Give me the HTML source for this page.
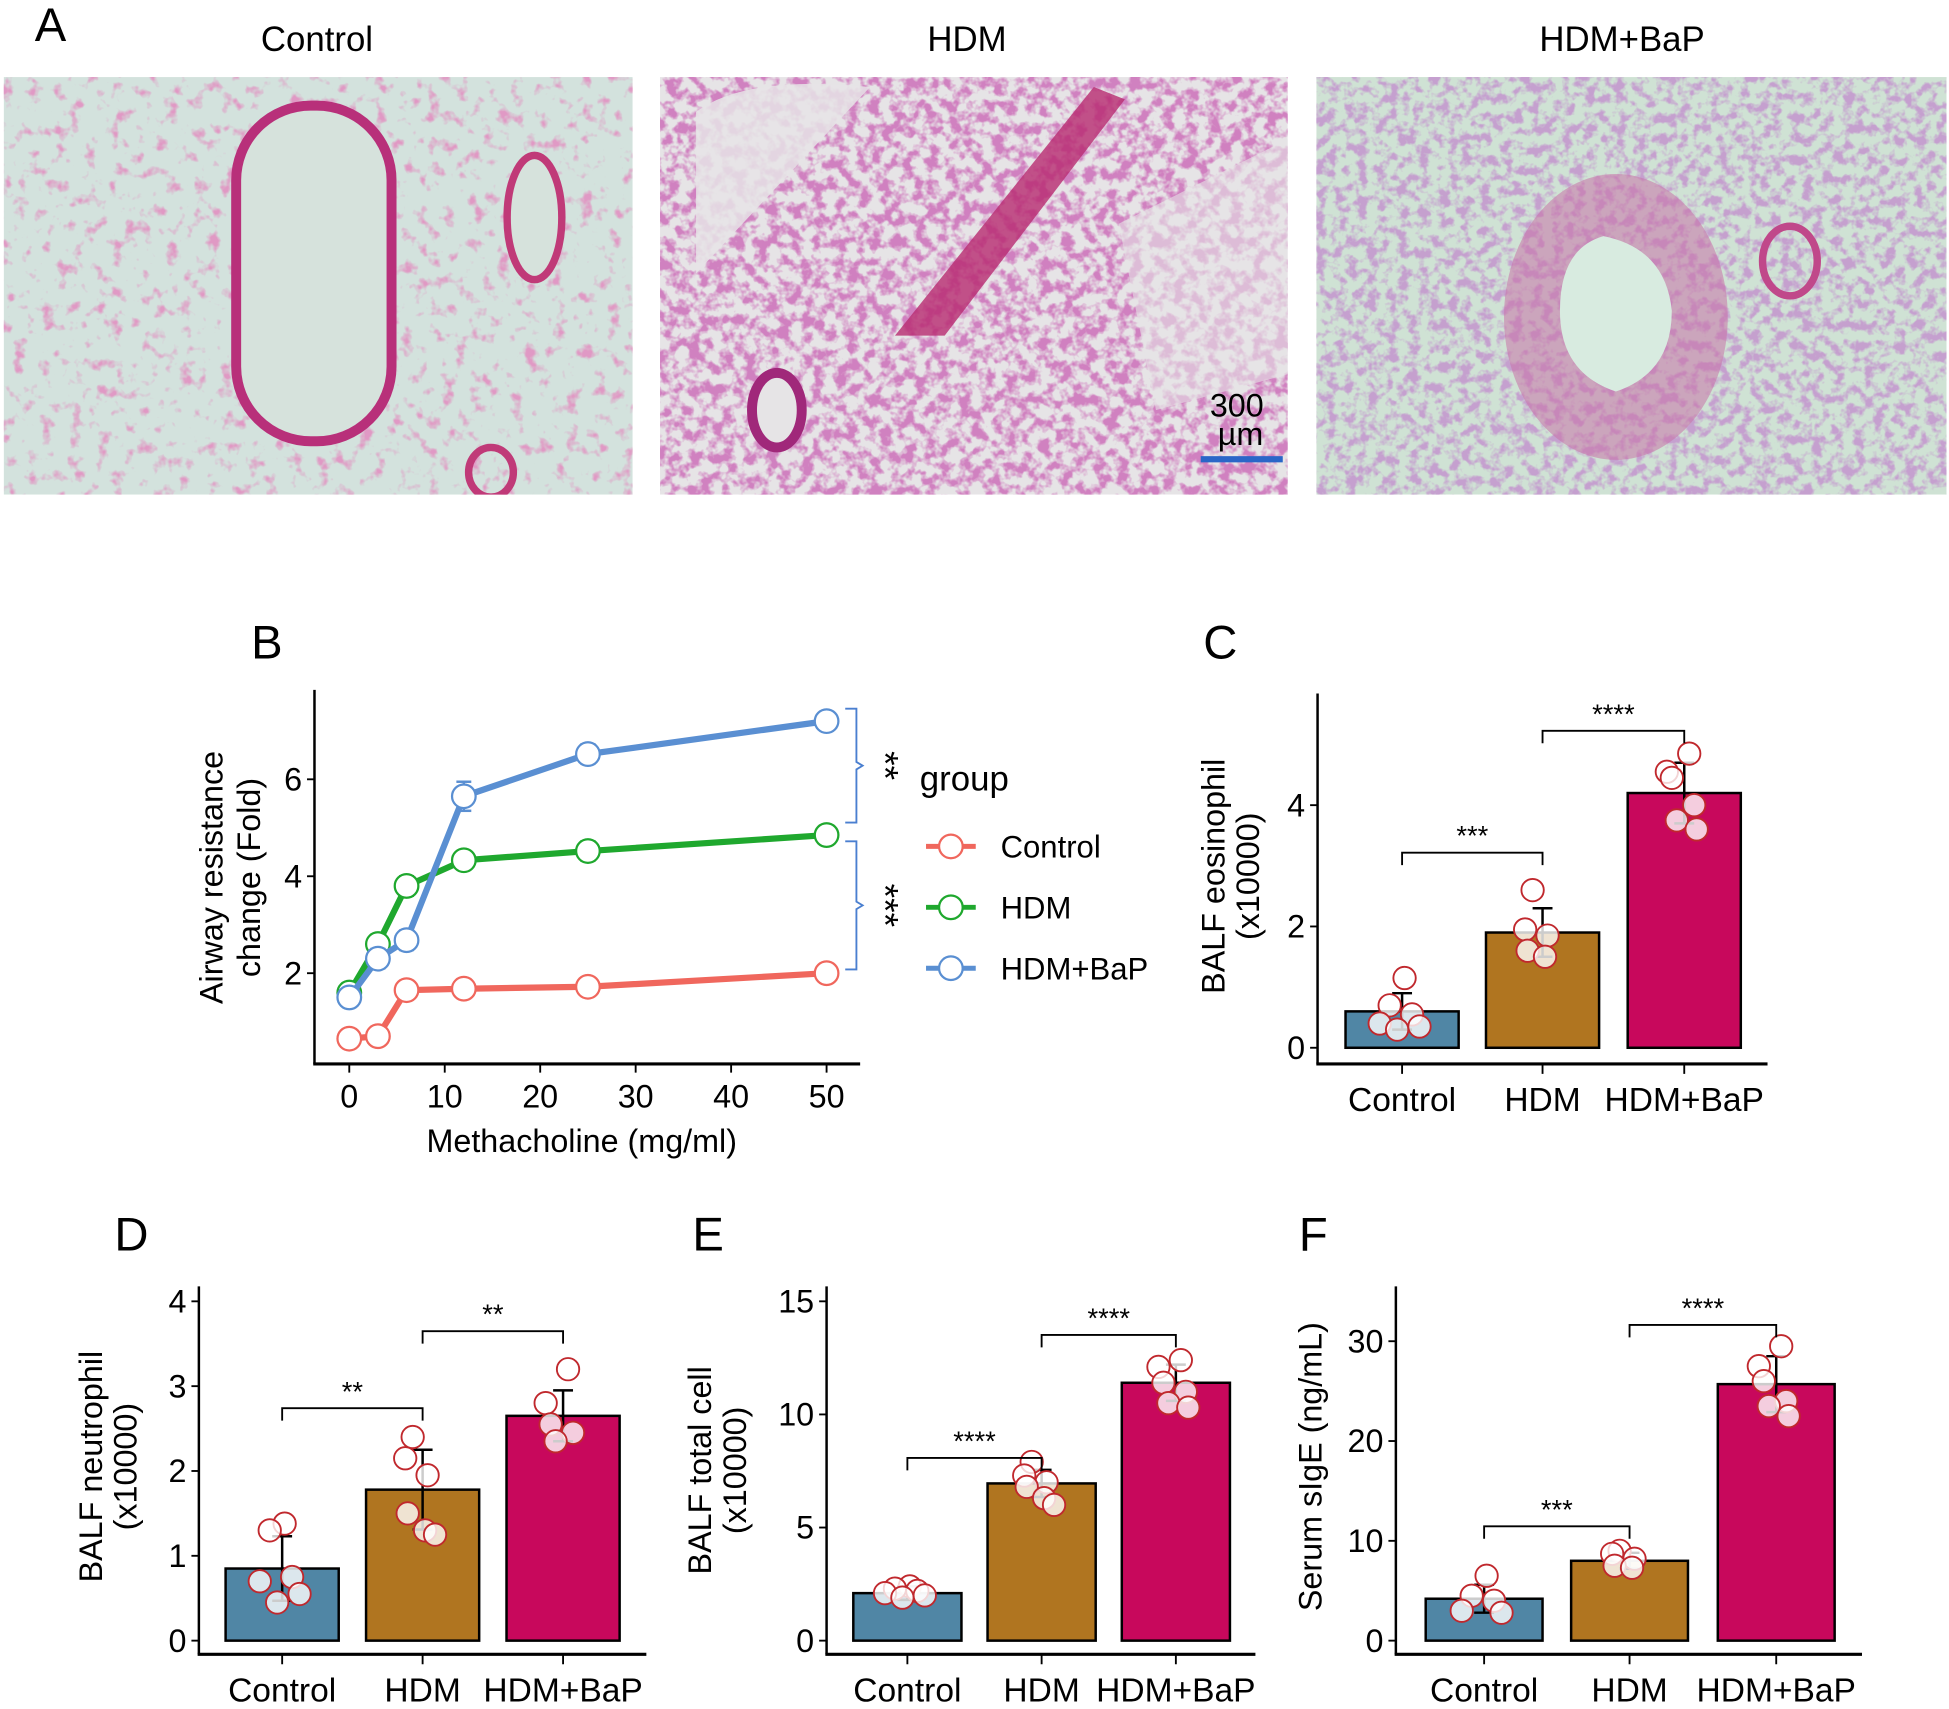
<!DOCTYPE html>
<html><head><meta charset="utf-8">
<style>
html,body{margin:0;padding:0;background:#fff;}
svg{display:block;}
text{font-family:"Liberation Sans",Arial,sans-serif;}
</style></head>
<body>
<svg id="fig" width="1949" height="1709" viewBox="0 0 1568 1375" preserveAspectRatio="none" xmlns="http://www.w3.org/2000/svg">
<defs>
<filter id="texA" x="0" y="0" width="1" height="1">
<feTurbulence type="fractalNoise" baseFrequency="0.09" numOctaves="3" seed="3"/>
<feColorMatrix type="matrix" values="0 0 0 0 0.78  0 0 0 0 0.22  0 0 0 0 0.5  4.5 0 0 0 -2.55"/>
</filter>
<filter id="texB" x="0" y="0" width="1" height="1">
<feTurbulence type="fractalNoise" baseFrequency="0.11" numOctaves="3" seed="7"/>
<feColorMatrix type="matrix" values="0 0 0 0 0.62  0 0 0 0 0.18  0 0 0 0 0.5  4.5 0 0 0 -1.9"/>
</filter>
<filter id="texC" x="0" y="0" width="1" height="1">
<feTurbulence type="fractalNoise" baseFrequency="0.12" numOctaves="3" seed="11"/>
<feColorMatrix type="matrix" values="0 0 0 0 0.55  0 0 0 0 0.3  0 0 0 0 0.62  4.5 0 0 0 -2.0"/>
</filter>
<clipPath id="c1"><rect x="3" y="62" width="506" height="336"/></clipPath>
<clipPath id="c2"><rect x="531" y="62" width="505" height="336"/></clipPath>
<clipPath id="c3"><rect x="1059" y="62" width="507" height="336"/></clipPath>
</defs>

<g>
<text x="28" y="33" font-size="38">A</text>
<text x="255" y="41" font-size="28" text-anchor="middle">Control</text>
<text x="778" y="41" font-size="28" text-anchor="middle">HDM</text>
<text x="1305" y="41" font-size="28" text-anchor="middle">HDM+BaP</text>

<g clip-path="url(#c1)">
<rect x="3" y="62" width="506" height="336" fill="#d3e2dd"/>
<rect x="3" y="62" width="506" height="336" filter="url(#texA)" opacity="0.75"/>
<rect x="190" y="85" width="125" height="270" rx="60" fill="#d6e2dc" stroke="#b8307a" stroke-width="8"/>
<ellipse cx="430" cy="175" rx="22" ry="50" fill="#d6e2dc" stroke="#c03a78" stroke-width="6"/>
<ellipse cx="395" cy="380" rx="18" ry="20" fill="none" stroke="#c03a78" stroke-width="6"/>
</g>
<g clip-path="url(#c2)">
<rect x="531" y="62" width="505" height="336" fill="#e6e4e6"/>
<rect x="531" y="62" width="505" height="336" filter="url(#texB)" opacity="0.9"/>
<path d="M560 90 Q600 60 700 70 L560 220 Z" fill="#e6e4e6" opacity="0.85"/>
<path d="M900 180 L1040 110 L1040 300 L930 330 Z" fill="#e6e4e6" opacity="0.6"/>
<path d="M720 270 L880 70 L905 80 L760 270 Z" fill="#b82a70" opacity="0.8"/>
<ellipse cx="625" cy="330" rx="20" ry="30" fill="#e6e4e6" stroke="#a0287a" stroke-width="8"/>
<rect x="966" y="367" width="66" height="5" fill="#2a66c8"/>
<text x="995" y="335" font-size="26" text-anchor="middle">300</text>
<text x="998" y="358" font-size="26" text-anchor="middle">µm</text>
</g>
<g clip-path="url(#c3)">
<rect x="1059" y="62" width="507" height="336" fill="#cfe2d4"/>
<rect x="1059" y="62" width="507" height="336" filter="url(#texC)" opacity="0.85"/>
<ellipse cx="1300" cy="255" rx="90" ry="115" fill="#c873a8" opacity="0.55"/>
<path d="M1290 190 Q1340 200 1345 250 Q1345 300 1300 315 Q1255 300 1255 250 Q1255 200 1290 190 Z" fill="#d8ebe0"/>
<ellipse cx="1440" cy="210" rx="22" ry="28" fill="none" stroke="#c0488a" stroke-width="6"/>
</g>
</g>

<g id="charts"></g>
</svg>

<script>
// ---- Panel B data ----
var doseX = [0, 3, 6, 12, 25, 50];
var ctrlMean = [0.65, 0.7, 1.65, 1.68, 1.72, 2.0];
var hdmMean = [1.6, 2.6, 3.8, 4.33, 4.52, 4.85];
var bapMean = [1.5, 2.3, 2.68, 5.65, 6.52, 7.2];
var ctrlErr = [0.05, 0.05, 0.08, 0.08, 0.08, 0.08];
var hdmErr = [0.15, 0.15, 0.2, 0.15, 0.2, 0.1];
var bapErr = [0.15, 0.2, 0.2, 0.3, 0.2, 0.15];
var bXTicks = [0, 10, 20, 30, 40, 50];
var bYTicks = [2, 4, 6];
var groupNames = ["Control", "HDM", "HDM+BaP"];

// ---- Panel C data (eosinophil) ----
var eosMean = [0.6, 1.9, 4.2];
var eosErr = [0.3, 0.4, 0.5];
var eosPtsCtrl = [1.15, 0.7, 0.55, 0.4, 0.35, 0.3];
var eosPtsHdm = [2.6, 1.95, 1.85, 1.6, 1.5];
var eosPtsBap = [4.85, 4.55, 4.45, 4.0, 3.75, 3.6];
var eosTicks = [0, 2, 4];

// ---- Panel D data (neutrophil) ----
var neuMean = [0.85, 1.78, 2.65];
var neuErr = [0.38, 0.47, 0.3];
var neuPtsCtrl = [1.38, 1.3, 0.75, 0.7, 0.55, 0.45];
var neuPtsHdm = [2.4, 2.15, 1.95, 1.5, 1.3, 1.25];
var neuPtsBap = [3.2, 2.8, 2.55, 2.45, 2.35];
var neuTicks = [0, 1, 2, 3, 4];

// ---- Panel E data (total cell) ----
var totMean = [2.1, 6.95, 11.4];
var totErr = [0.3, 0.6, 0.8];
var totPtsCtrl = [2.4, 2.3, 2.2, 2.1, 2.0, 1.9];
var totPtsHdm = [7.9, 7.3, 7.0, 6.8, 6.3, 6.0];
var totPtsBap = [12.4, 12.1, 11.4, 11.0, 10.5, 10.3];
var totTicks = [0, 5, 10, 15];

// ---- Panel F data (sIgE) ----
var igeMean = [4.2, 8.0, 25.7];
var igeErr = [1.4, 0.8, 2.8];
var igePtsCtrl = [6.5, 4.5, 4.0, 3.0, 2.8];
var igePtsHdm = [9.0, 8.7, 8.2, 7.5, 7.3];
var igePtsBap = [29.5, 27.5, 26.0, 24.0, 23.5, 22.5];
var igeTicks = [0, 10, 20, 30];

var NS = "http://www.w3.org/2000/svg";
var root = document.getElementById("charts");
function mk(tag, attrs, parent) {
  var e = document.createElementNS(NS, tag);
  for (var k in attrs) e.setAttribute(k, attrs[k]);
  (parent || root).appendChild(e);
  return e;
}
function txt(s, attrs, parent) { var t = mk("text", attrs, parent); t.textContent = s; return t; }

// ================= Panel B =================
(function () {
  var g = mk("g", {});
  
  
  function xs(v) { return 281 + v * 7.68; }
  function ys(v) { return 783 - (v - 2) * 39; }
  var lb = txt("B", { x: 202, y: 530, "font-size": 38 }, g);
  
  
  var ya = mk("line", { x1: 253, y1: 555, x2: 253, y2: 856, stroke: "#000", "stroke-width": 2 }, g);
  
  
  var xa = mk("line", { x1: 252, y1: 856, x2: 692, y2: 856, stroke: "#000", "stroke-width": 2.5 }, g);
  
  
  bXTicks.forEach(function (t) {
    mk("line", { x1: xs(t), y1: 856, x2: xs(t), y2: 863, stroke: "#000", "stroke-width": 1.5 }, g);
    var tl = txt(String(t), { x: xs(t), y: 891, "font-size": 26, "text-anchor": "middle" }, g);
    
    
  });
  bYTicks.forEach(function (t) {
    mk("line", { x1: 247, y1: ys(t), x2: 253, y2: ys(t), stroke: "#000", "stroke-width": 1.5 }, g);
    var tl = txt(String(t), { x: 243, y: ys(t) + 9, "font-size": 26, "text-anchor": "end" }, g);
    
    
  });
  var xt = txt("Methacholine (mg/ml)", { x: 468, y: 927, "font-size": 26, "text-anchor": "middle" }, g);
  
  
  var yt = txt("Airway resistance", { x: 0, y: 0, "font-size": 26, "text-anchor": "middle", transform: "translate(179,706) rotate(-90)" }, g);
  
  
  var yt2 = txt("change (Fold)", { x: 0, y: 0, "font-size": 26, "text-anchor": "middle", transform: "translate(209,706) rotate(-90)" }, g);
  
  

  var series = [
    { name: "control", mean: ctrlMean, err: ctrlErr, col: "#f0675d" },
    { name: "hdm", mean: hdmMean, err: hdmErr, col: "#1fa82e" },
    { name: "hdm-bap", mean: bapMean, err: bapErr, col: "#5a8fd2" }
  ];
  series.forEach(function (s) {
    var pts = doseX.map(function (d, i) { return xs(d) + "," + ys(s.mean[i]); }).join(" ");
    var pl = mk("polyline", { points: pts, fill: "none", stroke: s.col, "stroke-width": 5 }, g);
    
    
    doseX.forEach(function (d, i) {
      var x = xs(d), y1 = ys(s.mean[i] + s.err[i]), y2 = ys(s.mean[i] - s.err[i]);
      mk("line", { x1: x, y1: y1, x2: x, y2: y2, stroke: s.col, "stroke-width": 2 }, g);
      mk("line", { x1: x - 6, y1: y1, x2: x + 6, y2: y1, stroke: s.col, "stroke-width": 2 }, g);
      mk("line", { x1: x - 6, y1: y2, x2: x + 6, y2: y2, stroke: s.col, "stroke-width": 2 }, g);
      var c = mk("circle", { cx: x, cy: ys(s.mean[i]), r: 9.5, fill: "#fff", stroke: s.col, "stroke-width": 1.8 }, g);
      
      
    });
  });
  function brace(yTop, yBot, stars, name) {
    var b = mk("path", { d: "M680 " + yTop + " h9 V" + ((yTop + yBot) / 2 - 3) + " l5 3 l-5 3 V" + yBot + " h-9", fill: "none", stroke: "#4a7fd0", "stroke-width": 1.5 }, g);
    
    
    var mid = (yTop + yBot) / 2;
    var st = txt(stars, { x: 0, y: 0, "font-size": 30, "text-anchor": "middle", transform: "translate(702," + mid + ") rotate(90)" }, g);
    
    
  }
  brace(ys(bapMean[5]) - 10, ys(hdmMean[5]) - 10, "**", "sig-brace-bap-vs-hdm");
  brace(ys(hdmMean[5]) + 5, ys(ctrlMean[5]) - 3, "***", "sig-brace-hdm-vs-control");
  var lt = txt("group", { x: 740, y: 636, "font-size": 28 }, g);
  
  
  series.forEach(function (s, i) {
    var y = 681 + i * 49;
    var le = mk("g", {}, g);
    
    
    mk("line", { x1: 745, y1: y, x2: 785, y2: y, stroke: s.col, "stroke-width": 4 }, le);
    mk("circle", { cx: 765, cy: y, r: 9.5, fill: "#fff", stroke: s.col, "stroke-width": 1.8 }, le);
    txt(groupNames[i], { x: 805, y: y + 9, "font-size": 25 }, le);
  });
})();

// ================= Bar panels =================
var barCols = ["#5086a5", "#b07520", "#c8085c"];
var jitter = [[2, -10, 8, -18, 14, -4], [-8, -14, 4, -12, 2, 10], [4, -14, -10, 8, -6, 10]];
function barPanel(o) {
  var g = mk("g", {});
  
  
  function ys(v) { return o.y0 - v * o.ppu; }
  var lb = txt(o.letter, { x: o.lx, y: o.ly, "font-size": 38 }, g);
  
  
  var ya = mk("line", { x1: o.ax, y1: o.top, x2: o.ax, y2: o.xb, stroke: "#000", "stroke-width": 2 }, g);
  
  
  var xa = mk("line", { x1: o.ax - 1, y1: o.xb, x2: o.xend, y2: o.xb, stroke: "#000", "stroke-width": 2.5 }, g);
  
  
  o.ticks.forEach(function (t) {
    mk("line", { x1: o.ax - 6, y1: ys(t), x2: o.ax, y2: ys(t), stroke: "#000", "stroke-width": 1.5 }, g);
    var tl = txt(String(t), { x: o.ax - 10, y: ys(t) + 9, "font-size": 26, "text-anchor": "end" }, g);
    
    
  });
  o.titles.forEach(function (s, i) {
    var yt = txt(s, { x: 0, y: 0, "font-size": 26, "text-anchor": "middle", transform: "translate(" + o.tx[i] + "," + o.ty + ") rotate(-90)" }, g);
    
    
  });
  o.means.forEach(function (m, i) {
    var cx = o.cx[i];
    mk("line", { x1: cx, y1: o.xb, x2: cx, y2: o.xb + 8, stroke: "#000", "stroke-width": 1.5 }, g);
    var xl = txt(groupNames[i], { x: cx, y: o.xb + 38, "font-size": 27, "text-anchor": "middle" }, g);
    
    
    var b = mk("rect", { x: cx - o.bw / 2, y: ys(m), width: o.bw, height: ys(0) - ys(m), fill: barCols[i], stroke: "#000", "stroke-width": 2 }, g);
    
    
    var e1 = ys(m + o.err[i]), e2 = ys(m - o.err[i]);
    var eb = mk("path", { d: "M" + cx + " " + e1 + " V" + e2 + " M" + (cx - 8) + " " + e1 + " h16 M" + (cx - 8) + " " + e2 + " h16", stroke: "#000", "stroke-width": 2, fill: "none" }, g);
    
    
    o.pts[i].forEach(function (p, j) {
      var c = mk("circle", { cx: cx + jitter[i][j % 6], cy: ys(p), r: 9, fill: "rgba(255,255,255,0.8)", stroke: "#c0282d", "stroke-width": 1.5 }, g);
      
      
    });
  });
  o.sig.forEach(function (s) {
    var x1 = o.cx[s[0]], x2 = o.cx[s[1]], y = s[2];
    var br = mk("path", { d: "M" + x1 + " " + (y + 10) + " V" + y + " H" + x2 + " V" + (y + 10), fill: "none", stroke: "#000", "stroke-width": 1.5 }, g);
    
    
    var st = txt(s[3], { x: (x1 + x2) / 2, y: y - 6, "font-size": 22, "text-anchor": "middle" }, g);
    
    
  });
}

barPanel({ name: "panel-c-eosinophil", letter: "C", lx: 968, ly: 530, ax: 1060, top: 558, xb: 856, xend: 1422, y0: 843, ppu: 48.8,
  ticks: eosTicks, means: eosMean, err: eosErr, pts: [eosPtsCtrl, eosPtsHdm, eosPtsBap], cx: [1128, 1241, 1355], bw: 91,
  titles: ["BALF eosinophil", "(x10000)"], tx: [985, 1013], ty: 705,
  sig: [[0, 1, 686, "***"], [1, 2, 588, "****"]] });
barPanel({ name: "panel-d-neutrophil", letter: "D", lx: 92, ly: 1006, ax: 160, top: 1035, xb: 1331, xend: 520, y0: 1320, ppu: 68.25,
  ticks: neuTicks, means: neuMean, err: neuErr, pts: [neuPtsCtrl, neuPtsHdm, neuPtsBap], cx: [227, 340, 453], bw: 91,
  titles: ["BALF neutrophil", "(x10000)"], tx: [82, 110], ty: 1180,
  sig: [[0, 1, 1133, "**"], [1, 2, 1071, "**"]] });
barPanel({ name: "panel-e-total-cell", letter: "E", lx: 557, ly: 1006, ax: 665, top: 1035, xb: 1331, xend: 1010, y0: 1320, ppu: 18.2,
  ticks: totTicks, means: totMean, err: totErr, pts: [totPtsCtrl, totPtsHdm, totPtsBap], cx: [730, 838, 946], bw: 87,
  titles: ["BALF total cell", "(x10000)"], tx: [572, 600], ty: 1183,
  sig: [[0, 1, 1173, "****"], [1, 2, 1074, "****"]] });
barPanel({ name: "panel-f-sige", letter: "F", lx: 1045, ly: 1006, ax: 1123, top: 1035, xb: 1331, xend: 1498, y0: 1320, ppu: 8.03,
  ticks: igeTicks, means: igeMean, err: igeErr, pts: [igePtsCtrl, igePtsHdm, igePtsBap], cx: [1194, 1311, 1429], bw: 94,
  titles: ["Serum sIgE (ng/mL)"], tx: [1063], ty: 1180,
  sig: [[0, 1, 1228, "***"], [1, 2, 1066, "****"]] });
</script>
</body></html>
